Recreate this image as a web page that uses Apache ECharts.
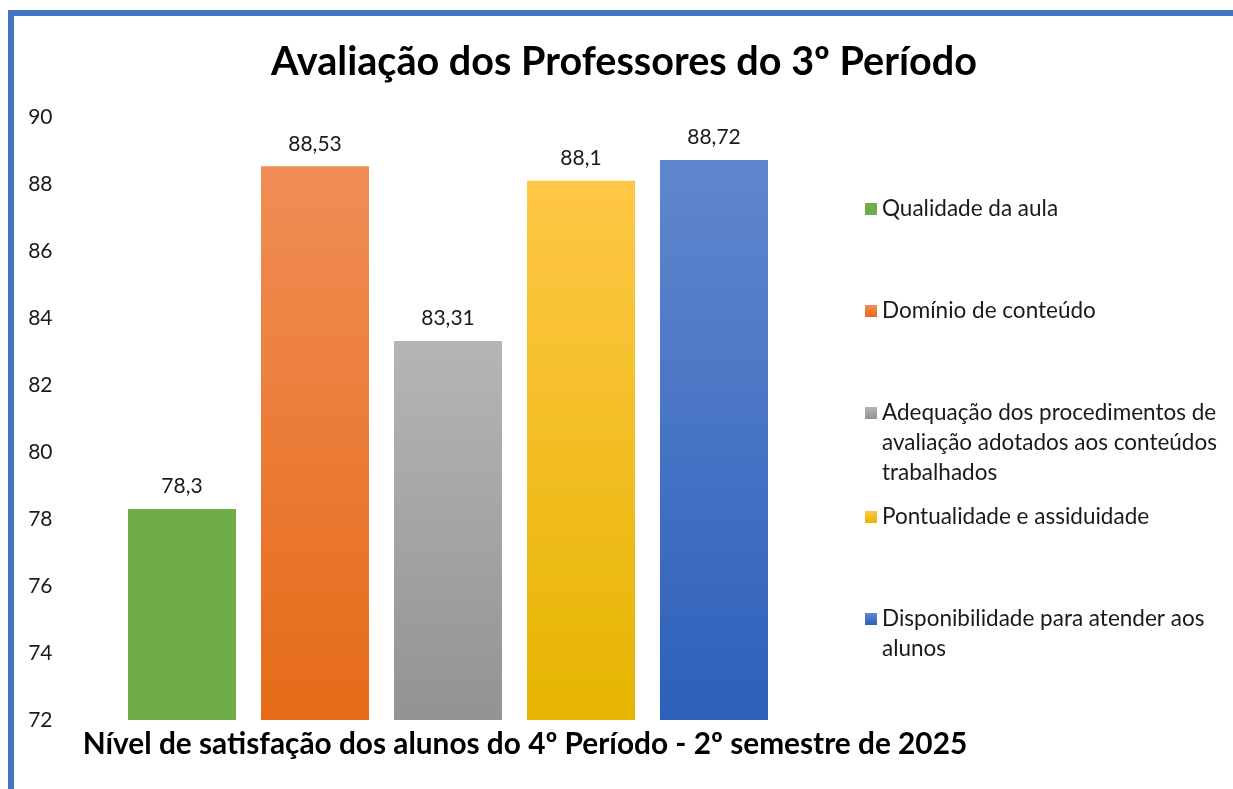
<!DOCTYPE html>
<html>
<head>
<meta charset="utf-8">
<script src="https://cdn.jsdelivr.net/npm/echarts@6/dist/echarts.min.js"></script>
<style>
  html, body { margin: 0; padding: 0; background: #fff; }
  #chart { position: absolute; left: 0; top: 0; width: 1233px; height: 789px; }
  #frame { position: absolute; left: 8px; top: 10px; right: 0; bottom: 0;
           border-top: 6px solid #4472C4; border-left: 6px solid #4472C4; pointer-events: none; }
</style>
</head>
<body>
<div id="chart"></div>
<div id="frame"></div>
<script>
const titleText = 'Avaliação dos Professores do 3º Período';
const axisTitle = 'Nível de satisfação dos alunos do 4º Período - 2º semestre de 2025';
const seriesNames = [
  'Qualidade da aula',
  'Domínio de conteúdo',
  'Adequação dos procedimentos de avaliação adotados aos conteúdos trabalhados',
  'Pontualidade e assiduidade',
  'Disponibilidade para atender aos alunos'
];
const legendLines = [
  'Qualidade da aula',
  'Domínio de conteúdo',
  'Adequação dos procedimentos de\navaliação adotados aos conteúdos\ntrabalhados',
  'Pontualidade e assiduidade',
  'Disponibilidade para atender aos\nalunos'
];
const values = [78.3, 88.53, 83.31, 88.1, 88.72];
const yTicks = { min: 72, max: 90, interval: 2 };
const colorsTop = ['#70AD47', '#F18D56', '#B5B5B5', '#FFC746', '#6087CE'];
const colorsBottom = ['#70AD47', '#E56B17', '#939393', '#E5B500', '#2D60BA'];

const FONT = 'Lato';
const categories = seriesNames.map((_, i) => 'c' + i);

const series = seriesNames.map((name, i) => ({
  name: name,
  type: 'bar',
  stack: 'all',
  barWidth: 108,
  data: values.map((v, j) => (j === i ? v : '-')),
  itemStyle: {
    color: {
      type: 'linear', x: 0, y: 0, x2: 0, y2: 1,
      colorStops: [
        { offset: 0, color: colorsTop[i] },
        { offset: 1, color: colorsBottom[i] }
      ]
    }
  },
  label: {
    show: true,
    position: 'top',
    distance: 12,
    color: '#1a1a1a',
    fontFamily: FONT,
    fontSize: 21,
    formatter: p => String(p.value).replace('.', ',')
  }
}));

// legend layout: icon aligned with first text line
const legendCenters = [209, 311, 413, 517, 619];
const LH = 30;
const legends = seriesNames.map((name, i) => {
  const lines = legendLines[i].split('\n').length;
  const prefix = '\n'.repeat(lines - 1);
  const totalLines = lines * 2 - 1;
  return {
    data: [name],
    orient: 'vertical',
    left: 865,
    top: legendCenters[i] - (totalLines * LH) / 2,
    padding: 0,
    itemWidth: 12,
    itemHeight: 12,
    icon: 'rect',
    selectedMode: false,
    formatter: () => prefix + legendLines[i],
    textStyle: {
      fontFamily: FONT,
      fontSize: 22.5,
      color: '#1a1a1a',
      lineHeight: LH
    }
  };
});

const chart = echarts.init(document.getElementById('chart'), null, { renderer: 'canvas' });
chart.setOption({
  backgroundColor: '#ffffff',
  animation: false,
  title: {
    text: titleText,
    left: 271,
    top: 38,
    padding: 0,
    textStyle: { fontFamily: FONT, fontWeight: 'bold', fontSize: 39.6, color: '#000', lineHeight: 48 }
  },
  legend: legends,
  grid: { left: 115.5, right: 452.5, top: 117, bottom: 69, containLabel: false },
  xAxis: {
    type: 'category',
    data: categories,
    axisLine: { show: false },
    axisTick: { show: false },
    axisLabel: { show: false },
    splitLine: { show: false },
    name: axisTitle,
    nameLocation: 'middle',
    nameGap: 9,
    nameTextStyle: {
      fontFamily: FONT, fontWeight: 'bold', fontSize: 29.8, color: '#000',
      padding: [0, 0, 0, 154]
    }
  },
  yAxis: {
    type: 'value',
    min: yTicks.min,
    max: yTicks.max,
    interval: yTicks.interval,
    axisLine: { show: false },
    axisTick: { show: false },
    splitLine: { show: false },
    axisLabel: {
      margin: 63,
      align: 'right',
      color: '#1a1a1a',
      fontFamily: FONT,
      fontSize: 21
    }
  },
  series: series
});
</script>
</body>
</html>
